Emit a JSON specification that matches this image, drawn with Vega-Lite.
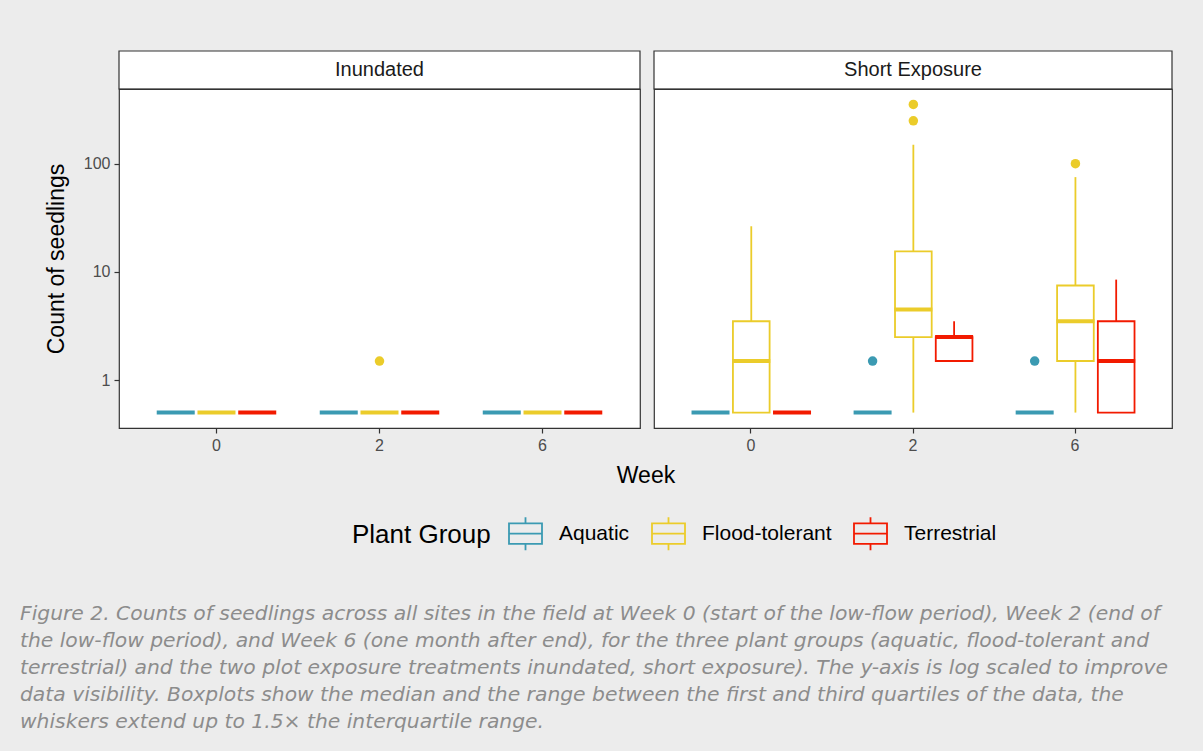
{
  "$schema": "https://vega.github.io/schema/vega-lite/v6.json",
  "background": "#ececec",
  "padding": {"left": 20, "top": 50, "right": 31, "bottom": 18},
  "datasets": {
    "strips": [
      {"Treatment": "Inundated"},
      {"Treatment": "Short Exposure"}
    ],
    "stats": [
      {"Treatment": "Inundated", "Week": "0", "Group": "Aquatic", "lower": 0.5, "q1": 0.5, "median": 0.5, "q3": 0.5, "upper": 0.5},
      {"Treatment": "Inundated", "Week": "0", "Group": "Flood-tolerant", "lower": 0.5, "q1": 0.5, "median": 0.5, "q3": 0.5, "upper": 0.5},
      {"Treatment": "Inundated", "Week": "0", "Group": "Terrestrial", "lower": 0.5, "q1": 0.5, "median": 0.5, "q3": 0.5, "upper": 0.5},
      {"Treatment": "Inundated", "Week": "2", "Group": "Aquatic", "lower": 0.5, "q1": 0.5, "median": 0.5, "q3": 0.5, "upper": 0.5},
      {"Treatment": "Inundated", "Week": "2", "Group": "Flood-tolerant", "lower": 0.5, "q1": 0.5, "median": 0.5, "q3": 0.5, "upper": 0.5},
      {"Treatment": "Inundated", "Week": "2", "Group": "Terrestrial", "lower": 0.5, "q1": 0.5, "median": 0.5, "q3": 0.5, "upper": 0.5},
      {"Treatment": "Inundated", "Week": "6", "Group": "Aquatic", "lower": 0.5, "q1": 0.5, "median": 0.5, "q3": 0.5, "upper": 0.5},
      {"Treatment": "Inundated", "Week": "6", "Group": "Flood-tolerant", "lower": 0.5, "q1": 0.5, "median": 0.5, "q3": 0.5, "upper": 0.5},
      {"Treatment": "Inundated", "Week": "6", "Group": "Terrestrial", "lower": 0.5, "q1": 0.5, "median": 0.5, "q3": 0.5, "upper": 0.5},
      {"Treatment": "Short Exposure", "Week": "0", "Group": "Aquatic", "lower": 0.5, "q1": 0.5, "median": 0.5, "q3": 0.5, "upper": 0.5},
      {"Treatment": "Short Exposure", "Week": "0", "Group": "Flood-tolerant", "lower": 0.5, "q1": 0.5, "median": 1.5, "q3": 3.5, "upper": 26.5},
      {"Treatment": "Short Exposure", "Week": "0", "Group": "Terrestrial", "lower": 0.5, "q1": 0.5, "median": 0.5, "q3": 0.5, "upper": 0.5},
      {"Treatment": "Short Exposure", "Week": "2", "Group": "Aquatic", "lower": 0.5, "q1": 0.5, "median": 0.5, "q3": 0.5, "upper": 0.5},
      {"Treatment": "Short Exposure", "Week": "2", "Group": "Flood-tolerant", "lower": 0.5, "q1": 2.5, "median": 4.5, "q3": 15.5, "upper": 150.5},
      {"Treatment": "Short Exposure", "Week": "2", "Group": "Terrestrial", "lower": 1.5, "q1": 1.5, "median": 2.5, "q3": 2.5, "upper": 3.5},
      {"Treatment": "Short Exposure", "Week": "6", "Group": "Aquatic", "lower": 0.5, "q1": 0.5, "median": 0.5, "q3": 0.5, "upper": 0.5},
      {"Treatment": "Short Exposure", "Week": "6", "Group": "Flood-tolerant", "lower": 0.5, "q1": 1.5, "median": 3.5, "q3": 7.5, "upper": 75.5},
      {"Treatment": "Short Exposure", "Week": "6", "Group": "Terrestrial", "lower": 0.5, "q1": 0.5, "median": 1.5, "q3": 3.5, "upper": 8.5}
    ],
    "outliers": [
      {"Treatment": "Inundated", "Week": "2", "Group": "Flood-tolerant", "count": 1.5},
      {"Treatment": "Short Exposure", "Week": "2", "Group": "Aquatic", "count": 1.5},
      {"Treatment": "Short Exposure", "Week": "2", "Group": "Flood-tolerant", "count": 250.5},
      {"Treatment": "Short Exposure", "Week": "2", "Group": "Flood-tolerant", "count": 355.5},
      {"Treatment": "Short Exposure", "Week": "6", "Group": "Aquatic", "count": 1.5},
      {"Treatment": "Short Exposure", "Week": "6", "Group": "Flood-tolerant", "count": 100.5}
    ]
  },
  "title": {
    "text": [
      "Figure 2. Counts of seedlings across all sites in the field at Week 0 (start of the low-flow period), Week 2 (end of",
      "the low-flow period), and Week 6 (one month after end), for the three plant groups (aquatic, flood-tolerant and",
      "terrestrial) and the two plot exposure treatments inundated, short exposure). The y-axis is log scaled to improve",
      "data visibility. Boxplots show the median and the range between the first and third quartiles of the data, the",
      "whiskers extend up to 1.5× the interquartile range."
    ],
    "orient": "bottom",
    "anchor": "start",
    "frame": "group",
    "dx": -99,
    "offset": 50,
    "font": "DejaVu Sans",
    "fontStyle": "italic",
    "fontWeight": "normal",
    "fontSize": 20.3,
    "lineHeight": 27,
    "color": "#8c8c8c"
  },
  "columns": 2,
  "bounds": "flush",
  "spacing": {"row": 0, "column": 14},
  "concat": [
    {
      "width": 521,
      "height": 38,
      "data": {"name": "strips"},
      "transform": [{"filter": "datum.Treatment === 'Inundated'"}],
      "layer": [
        {"mark": {"type": "rect", "fill": "white", "stroke": "#333333", "strokeWidth": 1.2}, "encoding": {}},
        {"mark": {"type": "text", "fontSize": 20, "color": "#1a1a1a"},
         "encoding": {"text": {"field": "Treatment", "type": "nominal"}}}
      ]
    },
    {
      "width": 518,
      "height": 38,
      "data": {"name": "strips"},
      "transform": [{"filter": "datum.Treatment === 'Short Exposure'"}],
      "layer": [
        {"mark": {"type": "rect", "fill": "white", "stroke": "#333333", "strokeWidth": 1.2}, "encoding": {}},
        {"mark": {"type": "text", "fontSize": 20, "color": "#1a1a1a"},
         "encoding": {"text": {"field": "Treatment", "type": "nominal"}}}
      ]
    },
    {
      "width": 521,
      "height": 339,
      "data": {"name": "stats"},
      "transform": [{"filter": "datum.Treatment === 'Inundated'"}],
      "encoding": {
        "x": {"field": "Week", "type": "nominal",
          "scale": {"domain": ["0", "2", "6"], "paddingInner": 0.25, "paddingOuter": 0.223},
          "axis": {"title": null, "labelAngle": 0}},
        "xOffset": {"field": "Group", "type": "nominal",
          "scale": {"domain": ["Aquatic", "Flood-tolerant", "Terrestrial"], "paddingInner": 0.1, "paddingOuter": 0.05}}
      },
      "layer": [
        {
          "mark": {"type": "rule", "strokeWidth": 1.8},
          "encoding": {
            "y": {"field": "lower", "type": "quantitative",
              "scale": {"type": "log", "domain": [0.36, 493.6], "nice": false},
              "axis": {"title": "Count of seedlings", "values": [1, 10, 100], "format": "d", "titlePadding": 15}},
            "y2": {"field": "q1"},
            "stroke": {"field": "Group", "type": "nominal",
              "scale": {"domain": ["Aquatic", "Flood-tolerant", "Terrestrial"], "range": ["#3B9AB2", "#EBCC2A", "#F21A00"]},
              "legend": {"title": "Plant Group", "orient": "none", "legendX": 233, "legendY": 465}}
          }
        },
        {
          "mark": {"type": "rule", "strokeWidth": 1.8},
          "encoding": {
            "y": {"field": "q3", "type": "quantitative"},
            "y2": {"field": "upper"},
            "stroke": {"field": "Group", "type": "nominal"}
          }
        },
        {
          "mark": {"type": "bar", "filled": false, "strokeWidth": 1.8},
          "encoding": {
            "y": {"field": "q1", "type": "quantitative"},
            "y2": {"field": "q3"},
            "stroke": {"field": "Group", "type": "nominal"}
          }
        },
        {
          "mark": {"type": "tick", "thickness": 4, "size": 38, "opacity": 1},
          "encoding": {
            "y": {"field": "median", "type": "quantitative"},
            "fill": {"field": "Group", "type": "nominal",
              "scale": {"domain": ["Aquatic", "Flood-tolerant", "Terrestrial"], "range": ["#3B9AB2", "#EBCC2A", "#F21A00"]},
              "legend": null}
          }
        },
        {
          "data": {"name": "outliers"},
          "transform": [{"filter": "datum.Treatment === 'Inundated'"}],
          "mark": {"type": "circle", "size": 90, "opacity": 1},
          "encoding": {
            "y": {"field": "count", "type": "quantitative"},
            "fill": {"field": "Group", "type": "nominal", "legend": null}
          }
        }
      ]
    },
    {
      "width": 518,
      "height": 339,
      "data": {"name": "stats"},
      "transform": [{"filter": "datum.Treatment === 'Short Exposure'"}],
      "encoding": {
        "x": {"field": "Week", "type": "nominal",
          "scale": {"domain": ["0", "2", "6"], "paddingInner": 0.25, "paddingOuter": 0.223},
          "axis": {"title": "Week", "labelAngle": 0, "titleX": -8.5, "titleAlign": "center", "titleAnchor": null, "titlePadding": 11}},
        "xOffset": {"field": "Group", "type": "nominal",
          "scale": {"domain": ["Aquatic", "Flood-tolerant", "Terrestrial"], "paddingInner": 0.1, "paddingOuter": 0.05}}
      },
      "layer": [
        {
          "mark": {"type": "rule", "strokeWidth": 1.8},
          "encoding": {
            "y": {"field": "lower", "type": "quantitative",
              "scale": {"type": "log", "domain": [0.36, 493.6], "nice": false},
              "axis": null},
            "y2": {"field": "q1"},
            "stroke": {"field": "Group", "type": "nominal",
              "scale": {"domain": ["Aquatic", "Flood-tolerant", "Terrestrial"], "range": ["#3B9AB2", "#EBCC2A", "#F21A00"]},
              "legend": {"title": "Plant Group", "orient": "none", "legendX": 233, "legendY": 465}}
          }
        },
        {
          "mark": {"type": "rule", "strokeWidth": 1.8},
          "encoding": {
            "y": {"field": "q3", "type": "quantitative"},
            "y2": {"field": "upper"},
            "stroke": {"field": "Group", "type": "nominal"}
          }
        },
        {
          "mark": {"type": "bar", "filled": false, "strokeWidth": 1.8},
          "encoding": {
            "y": {"field": "q1", "type": "quantitative"},
            "y2": {"field": "q3"},
            "stroke": {"field": "Group", "type": "nominal"}
          }
        },
        {
          "mark": {"type": "tick", "thickness": 4, "size": 38, "opacity": 1},
          "encoding": {
            "y": {"field": "median", "type": "quantitative"},
            "fill": {"field": "Group", "type": "nominal",
              "scale": {"domain": ["Aquatic", "Flood-tolerant", "Terrestrial"], "range": ["#3B9AB2", "#EBCC2A", "#F21A00"]},
              "legend": null}
          }
        },
        {
          "data": {"name": "outliers"},
          "transform": [{"filter": "datum.Treatment === 'Short Exposure'"}],
          "mark": {"type": "circle", "size": 90, "opacity": 1},
          "encoding": {
            "y": {"field": "count", "type": "quantitative"},
            "fill": {"field": "Group", "type": "nominal", "legend": null}
          }
        }
      ]
    }
  ],
  "config": {
    "font": "Liberation Sans",
    "view": {"stroke": "#333333", "strokeWidth": 1.2, "fill": "white"},
    "axis": {"domain": false, "grid": false, "tickColor": "#333333", "tickSize": 5, "tickWidth": 1.2,
      "labelColor": "#4d4d4d", "labelFontSize": 16, "labelPadding": 4,
      "titleColor": "#000000", "titleFontSize": 23, "titleFontWeight": "normal"},
    "legend": {
      "direction": "horizontal",
      "titleOrient": "left",
      "titleFontSize": 26,
      "titleFontWeight": "normal",
      "titleColor": "#000000",
      "titlePadding": 17,
      "titleBaseline": "middle",
      "labelFontSize": 21,
      "labelColor": "#000000",
      "labelOffset": 16,
      "columnPadding": 17,
      "symbolType": "M-1.055,-0.62H1.055M1,-0.62V0.62M1.055,0.62H-1.055M-1,0.62V-0.62M-1,0H1M0,-0.62V-1M0,0.62V1",
      "symbolSize": 1090,
      "symbolStrokeWidth": 1.8,
      "symbolFillColor": "transparent"
    }
  }
}
